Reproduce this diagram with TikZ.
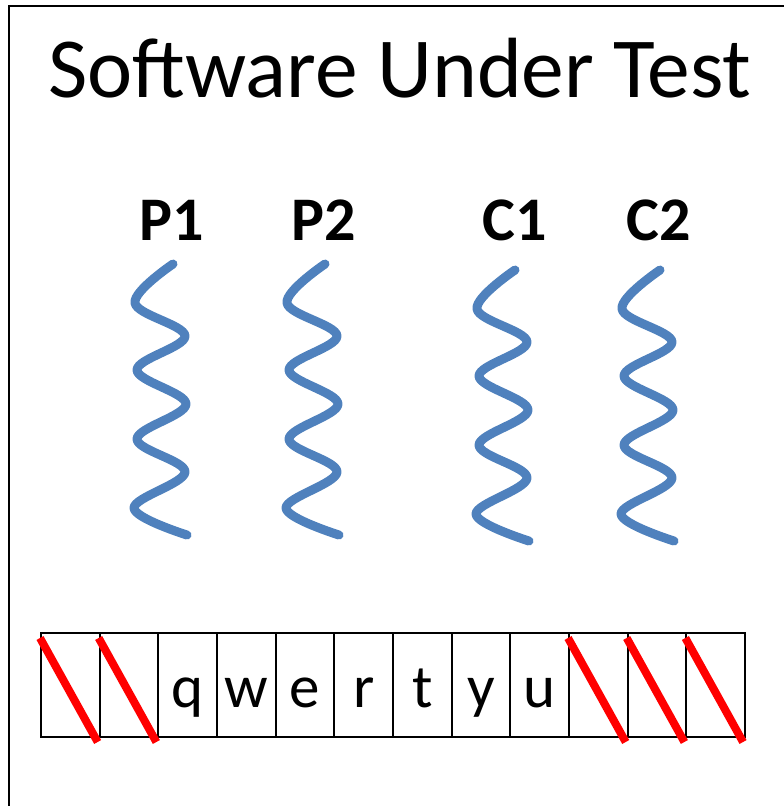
\documentclass[tikz,border=0pt]{standalone}
\usepackage{fontspec}
\setmainfont{Carlito}
\definecolor{wire}{RGB}{79,129,189}
\definecolor{strike}{RGB}{255,0,0}
\tikzset{
  frame/.style={draw=black, line width=2.5pt},
  slot/.style={draw=black, line width=2.2pt, minimum width=58.67pt, minimum height=104pt,
               inner sep=0pt, outer sep=0pt, anchor=north west},
  slotletter/.style={font=\fontsize{61}{72}\selectfont},
  thread/.style={draw=wire, line width=9pt, line cap=round, line join=round},
  threadname/.style={font=\fontsize{62}{74}\selectfont\bfseries, anchor=base},
  title/.style={font=\fontsize{85.5}{100}\selectfont, anchor=base},
  cross/.style={draw=strike, line width=8pt}
}
\begin{document}
\begin{tikzpicture}[x=1pt, y=-1pt]
  \useasboundingbox (0,0) rectangle (784,806);
  \clip (0,0) rectangle (784,806);

  % outer frame, running off the right and bottom edges
  \draw[frame] (9,6) rectangle (820,840);

  % heading
  \node[title] (heading) at (400,97) {Software Under Test};

  % thread names
  \node[threadname] (p1) at (172,240) {P1};
  \node[threadname] (p2) at (324,240) {P2};
  \node[threadname] (c1) at (515,240) {C1};
  \node[threadname] (c2) at (659,240) {C2};

  % one wavy thread per producer / consumer
  \foreach \sx/\sy in {173/264, 325/264, 515/270, 660/270} {
    \draw[thread] plot[smooth, tension=0.6] coordinates {
      (\sx,\sy) ({\sx-38},{\sy+39}) ({\sx+12},{\sy+72}) ({\sx-36},{\sy+106})
      ({\sx+13},{\sy+140}) ({\sx-36},{\sy+175}) ({\sx+12},{\sy+208})
      ({\sx-39},{\sy+244}) ({\sx+14},{\sy+271})
    };
  }

  % ring buffer slots
  \foreach \i/\t in {1/,2/,3/q,4/w,5/e,6/r,7/t,8/y,9/u,10/,11/,12/} {
    \node[slot] (s\i) at ({41+(\i-1)*58.67},633) {};
    \node[slotletter, anchor=base] (l\i) at ({41+(\i-0.5)*58.67},707) {\t};
  }

  % emptied slots are struck through
  \foreach \i in {1,2,10,11,12} {
    \draw[cross] ([shift={(-1,5)}]s\i.north west) -- ([shift={(-2,5)}]s\i.south east);
  }
\end{tikzpicture}
\end{document}
